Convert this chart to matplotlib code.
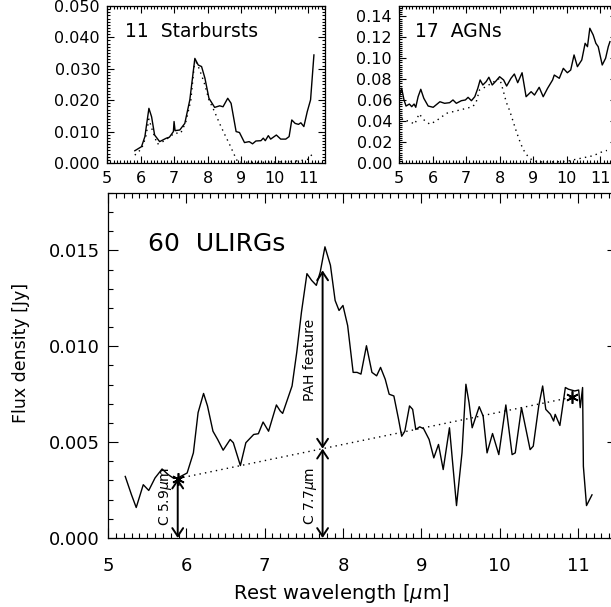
import matplotlib
matplotlib.use('Agg')
import matplotlib.pyplot as plt
from matplotlib.ticker import MultipleLocator, FormatStrFormatter

plt.rcParams['font.family'] = ['DejaVu Sans']
plt.rcParams['mathtext.fontset'] = 'dejavusans'

# ---- 60 ULIRGs (main panel), flux in Jy ----
ulirg_wave = [5.22, 5.30, 5.36, 5.45, 5.52, 5.60, 5.69, 5.77, 5.84, 5.89, 6.01, 6.09, 6.15, 6.22,
              6.27, 6.34, 6.40, 6.47, 6.56, 6.60, 6.69, 6.76, 6.86, 6.92, 6.98, 7.05, 7.15, 7.20,
              7.23, 7.35, 7.41, 7.47, 7.54, 7.60, 7.66, 7.71, 7.77, 7.84, 7.90, 7.95, 8.00, 8.06,
              8.13, 8.18, 8.23, 8.30, 8.37, 8.43, 8.48, 8.54, 8.59, 8.65, 8.71, 8.75, 8.79, 8.85,
              8.89, 8.93, 8.98, 9.03, 9.10, 9.16, 9.22, 9.28, 9.36, 9.45, 9.52, 9.57, 9.61, 9.65,
              9.74, 9.79, 9.84, 9.91, 9.99, 10.08, 10.16, 10.20, 10.28, 10.39, 10.43, 10.50, 10.55,
              10.59, 10.65, 10.69, 10.71, 10.77, 10.84, 10.88, 10.96, 11.01, 11.03, 11.06, 11.07,
              11.11, 11.18]
ulirg_flux = [3.21, 2.25, 1.59, 2.78, 2.48, 3.13, 3.60, 3.30, 3.11, 3.13, 3.39, 4.44, 6.54, 7.54,
              6.89, 5.57, 5.14, 4.58, 5.14, 4.97, 3.78, 4.97, 5.40, 5.44, 6.05, 5.57, 6.94, 6.62,
              6.50, 7.93, 9.69, 11.78, 13.79, 13.44, 13.18, 13.88, 15.19, 14.23, 12.39, 11.87, 12.13, 11.08,
              8.64, 8.64, 8.55, 10.03, 8.64, 8.46, 8.90, 8.28, 7.50, 7.41, 6.19, 5.31, 5.57, 6.89,
              6.71, 5.66, 5.80, 5.70, 5.14, 4.18, 4.88, 3.57, 5.75, 1.69, 4.44, 8.02, 7.06, 5.75,
              6.85, 6.36, 4.44, 5.45, 4.35, 6.94, 4.35, 4.44, 6.80, 4.61, 4.79, 6.89, 7.93,
              6.71, 6.45, 6.10, 6.45, 5.87, 7.85, 7.76, 7.67, 7.72, 6.80, 7.85, 3.74,
              1.69, 2.25]
ulirg_flux = [f * 1e-3 for f in ulirg_flux]

# continuum anchor points (5.9, 7.7 and ~11 um) and top of the 7.7 PAH feature
cont_wave = [5.89, 7.74, 10.92]
cont_flux = [3.10e-3, 4.66e-3, 7.34e-3]
pah_top = 13.96e-3

# ---- 11 Starbursts ----
sb_wave = [5.83, 6.03, 6.13, 6.25, 6.33, 6.42, 6.57, 6.77, 6.86, 6.98, 7.00, 7.03, 7.17, 7.32,
           7.47, 7.62, 7.72, 7.82, 7.92, 8.04, 8.21, 8.36, 8.46, 8.60, 8.70, 8.85, 8.95, 9.10,
           9.24, 9.34, 9.44, 9.59, 9.66, 9.72, 9.81, 9.88, 10.05, 10.18, 10.33, 10.43, 10.51,
           10.61, 10.71, 10.78, 10.87, 10.97, 11.07, 11.17]
sb_flux = [3.9, 5.2, 8.4, 17.4, 14.7, 8.9, 6.8, 7.9, 8.2, 10.0, 13.2, 10.3, 10.5, 12.6,
           20.1, 33.3, 31.2, 30.7, 27.0, 20.6, 17.7, 18.2, 17.9, 20.6, 19.0, 10.0, 9.7, 6.5,
           6.8, 6.1, 7.0, 7.1, 7.9, 7.1, 8.7, 7.6, 8.9, 7.6, 7.6, 8.4, 13.7,
           12.6, 12.3, 12.8, 11.6, 16.3, 20.1, 34.4]
sb_flux = [f * 1e-3 for f in sb_flux]
sb_pah_wave = [5.83, 6.03, 6.15, 6.25, 6.35, 6.50, 6.70, 6.90, 7.00, 7.20, 7.35, 7.50, 7.62,
               7.75, 7.90, 8.04, 8.20, 8.36, 8.50, 8.66, 8.80, 8.90, 9.50, 10.00, 10.50, 10.80,
               11.00, 11.17]
sb_pah_flux = [2.5, 4.5, 8.0, 14.0, 10.5, 6.0, 7.0, 8.5, 9.5, 9.5, 13.0, 20.0, 33.0,
               30.0, 25.5, 20.1, 16.5, 12.5, 9.3, 5.8, 2.5, 0.3, 0.2, 0.3, 0.5, 0.8,
               1.2, 3.5]
sb_pah_flux = [f * 1e-3 for f in sb_pah_flux]

# ---- 17 AGNs ----
agn_wave = [5.01, 5.08, 5.15, 5.21, 5.31, 5.38, 5.45, 5.50, 5.57, 5.65, 5.74, 5.87, 6.02, 6.22,
            6.36, 6.51, 6.61, 6.71, 6.86, 6.98, 7.06, 7.16, 7.26, 7.35, 7.42, 7.50, 7.60, 7.68,
            7.78, 7.90, 8.00, 8.12, 8.21, 8.34, 8.44, 8.54, 8.67, 8.74, 8.79, 8.94, 9.04, 9.18,
            9.30, 9.43, 9.58, 9.63, 9.78, 9.90, 10.02, 10.12, 10.22, 10.32, 10.45, 10.55, 10.62,
            10.69, 10.79, 10.87, 10.94, 11.06, 11.16, 11.24, 11.29]
agn_flux = [63.3, 71.3, 60.2, 54.4, 56.3, 53.8, 56.3, 53.2, 63.3, 70.4, 61.8, 54.4, 53.2, 58.5,
            57.0, 57.6, 60.2, 57.0, 59.5, 60.2, 62.7, 59.5, 63.3, 71.3, 79.3, 74.5, 77.7, 81.9,
            74.5, 78.6, 82.4, 79.3, 73.5, 80.9, 85.0, 76.7, 86.2, 72.9, 63.3, 68.1, 64.9, 72.3,
            63.3, 71.3, 79.3, 84.0, 80.9, 90.4, 86.2, 88.8, 103.2, 92.0, 98.4, 114.3, 111.1,
            128.7, 122.3, 114.3, 111.1, 93.6, 100.0, 111.1, 115.9]
agn_flux = [f * 1e-3 for f in agn_flux]
agn_pah_wave = [5.00, 5.12, 5.30, 5.47, 5.60, 5.75, 5.92, 6.10, 6.42, 6.80, 7.20, 7.30, 7.40,
                7.60, 7.80, 8.00, 8.10, 8.20, 8.30, 8.40, 8.50, 8.60, 8.70, 8.85, 9.00, 9.20,
                9.60, 10.00, 10.20, 10.50, 10.80, 11.00, 11.20]
agn_pah_flux = [47, 41, 40, 37, 47, 41, 37, 40, 47.5, 50.5, 53.8, 58, 69.7,
                73, 77, 80.9, 70, 58, 50, 40, 30, 21, 13, 6, 2, 1,
                1, 1.5, 3, 5, 7, 10, 12]
agn_pah_flux = [f * 1e-3 for f in agn_pah_flux]


def style_axes(ax, ymaj, ymin, fmt, lsize, majlen, minlen, xpad, ypad):
   ax.set_xlim(5, 11.5)
   ax.xaxis.set_major_locator(MultipleLocator(1))
   ax.xaxis.set_minor_locator(MultipleLocator(0.1))
   ax.yaxis.set_major_locator(MultipleLocator(ymaj))
   ax.yaxis.set_minor_locator(MultipleLocator(ymin))
   ax.yaxis.set_major_formatter(FormatStrFormatter(fmt))
   ax.tick_params(which='both', direction='in', top=True, right=True, width=0.8, labelsize=lsize)
   ax.tick_params(which='major', length=majlen)
   ax.tick_params(which='minor', length=minlen)
   ax.tick_params(axis='x', pad=xpad)
   ax.tick_params(axis='y', pad=ypad)
   for s in ax.spines.values():
      s.set_linewidth(0.9)


fig = plt.figure(figsize=(6.11, 6.07), dpi=100)

# top left: starbursts
ax1 = fig.add_axes([0.1751, 0.7315, 0.3568, 0.2587])
ax1.plot(sb_wave, sb_flux, color='k', lw=1.0)
ax1.plot(sb_pah_wave, sb_pah_flux, color='k', lw=1.0, ls=(0, (1, 3)))
ax1.set_ylim(0, 0.050)
style_axes(ax1, 0.010, 0.001, '%.3f', 11.5, 5, 2.5, 6, 5)
ax1.text(0.082, 0.84, '11  Starbursts', transform=ax1.transAxes, fontsize=13.5, va='center')

# top right: AGNs
ax2 = fig.add_axes([0.6530, 0.7315, 0.3568, 0.2587])
ax2.plot(agn_wave, agn_flux, color='k', lw=1.0)
ax2.plot(agn_pah_wave, agn_pah_flux, color='k', lw=1.0, ls=(0, (1, 3)))
ax2.set_ylim(0, 0.15)
style_axes(ax2, 0.02, 0.002, '%.2f', 11.5, 5, 2.5, 6, 5)
ax2.text(0.073, 0.84, '17  AGNs', transform=ax2.transAxes, fontsize=13.5, va='center')

# bottom: ULIRGs
ax = fig.add_axes([0.1768, 0.1137, 0.8331, 0.5684])
ax.plot(ulirg_wave, ulirg_flux, color='k', lw=1.0)
ax.plot(cont_wave, cont_flux, color='k', lw=1.0, ls=(0, (1, 3)))
ax.set_ylim(0, 0.018)
style_axes(ax, 0.005, 0.001, '%.3f', 13, 7, 3.5, 14, 6)

ax.plot([cont_wave[0], cont_wave[2]], [cont_flux[0], cont_flux[2]], ls='none',
        marker=(6, 2, 0), ms=9, mew=1.2, color='k')

arrow = dict(arrowstyle='<->, head_length=0.45, head_width=0.3', lw=1.4, color='k',
             shrinkA=0, shrinkB=0, mutation_scale=13)
ax.annotate('', xy=(cont_wave[0], cont_flux[0]), xytext=(cont_wave[0], 0), arrowprops=arrow)
ax.annotate('', xy=(cont_wave[1], cont_flux[1]), xytext=(cont_wave[1], 0), arrowprops=arrow)
ax.annotate('', xy=(cont_wave[1], pah_top), xytext=(cont_wave[1], cont_flux[1]), arrowprops=arrow)

ax.text(cont_wave[0] - 0.15, 0.0037, r'C 5.9$\mu$m', rotation=90, fontsize=10,
        ha='center', va='top')
ax.text(cont_wave[1] - 0.16, 0.0037, r'C 7.7$\mu$m', rotation=90, fontsize=10,
        ha='center', va='top')
ax.text(cont_wave[1] - 0.16, 0.0093, 'PAH feature', rotation=90, fontsize=10,
        ha='center', va='center')
ax.text(0.079, 0.852, '60  ULIRGs', transform=ax.transAxes, fontsize=18, va='center')

ax.set_xlabel(r'Rest wavelength [$\mu$m]', fontsize=14)
ax.set_ylabel('Flux density [Jy]', fontsize=12.5)
ax.xaxis.set_label_coords(0.458, -0.128)
ax.yaxis.set_label_coords(-0.153, 0.536)

# IDL-style: lowest label of the small panels sits on the axis
fig.canvas.draw()
for a in (ax1, ax2):
   a.get_yticklabels()[0].set_va('bottom')

fig.savefig('out.png', dpi=100)
